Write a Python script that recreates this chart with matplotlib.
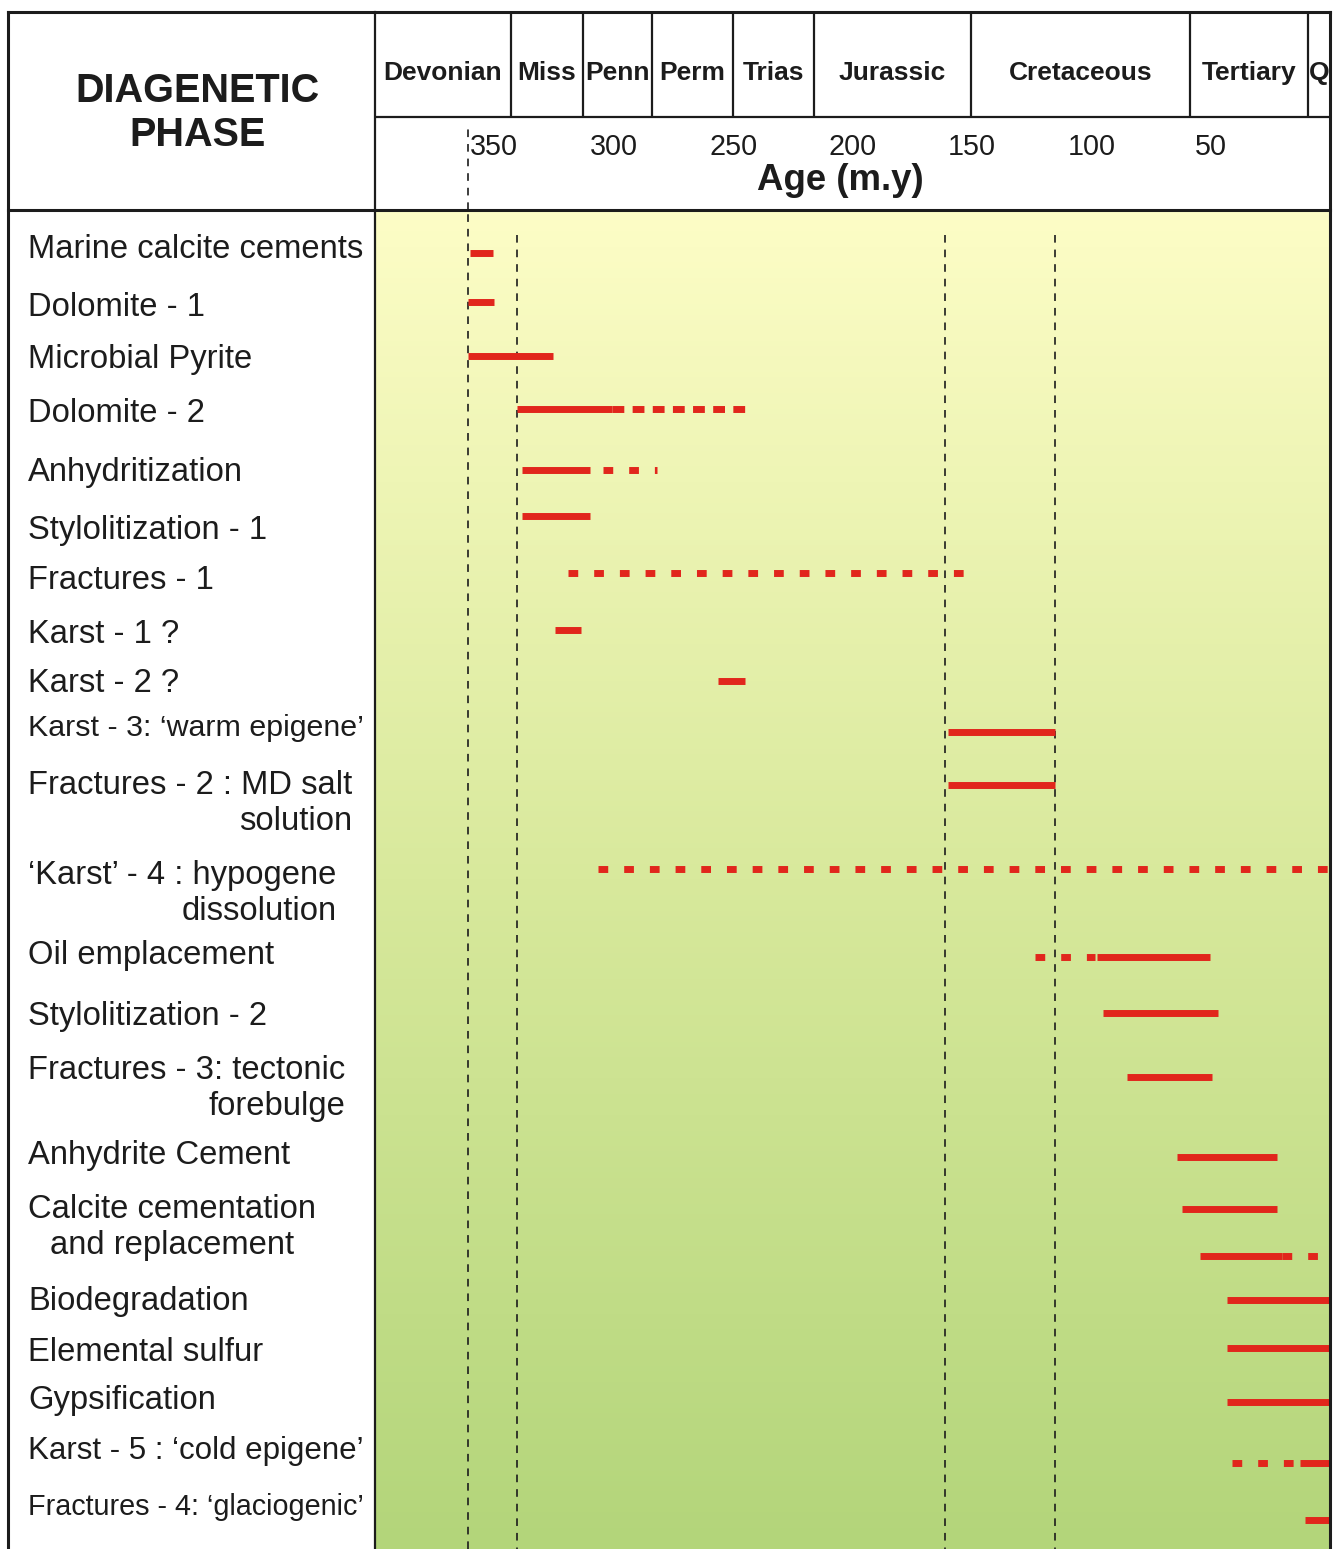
import matplotlib
matplotlib.use("Agg")
import matplotlib.pyplot as plt
import matplotlib.transforms as mtrans
from matplotlib.colors import LinearSegmentedColormap
from matplotlib.lines import Line2D
import numpy as np

plt.rcParams['font.family'] = ['Liberation Sans', 'DejaVu Sans']
plt.rcParams['lines.scale_dashes'] = False

# ---- data (ages in m.y.) ----
period_names = ['Devonian', 'Miss', 'Penn', 'Perm', 'Trias', 'Jurassic',
                'Cretaceous', 'Tertiary', 'Q']
period_bounds = [400, 343, 313, 284, 250, 216, 150.4, 58.6, 9.2, 0]
age_ticks = [350, 300, 250, 200, 150, 100, 50]
guide_ages = [361, 340.5, 161.3, 115.2]

phases = ['Marine calcite cements', 'Dolomite - 1', 'Microbial Pyrite',
          'Dolomite - 2', 'Anhydritization', 'Stylolitization - 1',
          'Fractures - 1', 'Karst - 1 ?', 'Karst - 2 ?',
          'Karst - 3: \u2018warm epigene\u2019',
          'Fractures - 2 : MD salt\nsolution',
          '\u2018Karst\u2019 - 4 : hypogene\ndissolution',
          'Oil emplacement', 'Stylolitization - 2',
          'Fractures - 3: tectonic\nforebulge',
          'Anhydrite Cement', 'Calcite cementation\nand replacement',
          'Biodegradation', 'Elemental sulfur', 'Gypsification',
          'Karst - 5 : \u2018cold epigene\u2019',
          'Fractures - 4: \u2018glaciogenic\u2019']
label_row = [-0.06, 1.02, 2.0, 3.02, 4.13, 5.23, 6.17, 7.19, 8.11, 8.98,
             10.04, 11.74, 13.25, 14.4, 15.42, 17.02, 18.04, 19.77, 20.74,
             21.64, 22.6, 23.68]

# timing segments: row, from (older), to (younger), kind
seg_row = [0, 0.92, 1.94, 2.94, 2.94, 4.09, 4.09, 4.96, 6.04, 7.11, 8.08,
           9.04, 10.04, 11.62, 13.28, 13.28, 14.34, 15.55, 17.06, 18.04,
           18.92, 18.92, 19.75, 20.66, 21.68, 22.83, 22.83, 23.91]
seg_old = [360.2, 361, 361, 340.5, 300.7, 338.4, 304.5, 338.4, 319.2, 324.6,
           256.3, 160, 160, 306.6, 123.6, 97.6, 95, 85, 64.1, 62,
           54.4, 20.1, 43.1, 43.1, 43.1, 41, 12.6, 10.5]
seg_young = [350.6, 350.2, 325.4, 300.7, 245, 310, 281.9, 310, 152, 313.7,
             245, 115.2, 115.2, 0, 98.4, 50.3, 46.9, 49.4, 22.2, 22.2,
             20.1, 2.1, 0, 0, 0, 12.6, 0, 0]
seg_kind = ['solid', 'solid', 'solid', 'solid', 'dense', 'solid', 'dash',
            'solid', 'dash', 'solid', 'solid', 'solid', 'solid', 'dash',
            'dash', 'solid', 'solid', 'solid', 'solid', 'solid', 'solid',
            'dash', 'solid', 'solid', 'solid', 'dash', 'solid', 'solid']

RED = '#E1261C'
INK = '#1c1c1c'
W, H = 1336, 1549


def fx(px):
    return px / W


def fy(py):
    return 1 - py / H


fig = plt.figure(figsize=(W / 100, H / 100), dpi=100)
fig.patch.set_facecolor('white')

# body of the chart
ax = fig.add_axes([fx(375), 0, fx(1330) - fx(375), fy(210)])
grad = np.linspace(0, 1, 256).reshape(-1, 1)
cmap = LinearSegmentedColormap.from_list('bg', ['#FDFDC6', '#D8E99C', '#B3D57A'])
ax.imshow(grad, extent=(0, 1, 0, 1), transform=ax.transAxes, aspect='auto',
          cmap=cmap, zorder=0)
ax.set_xlim(400, 0)
ax.set_ylim(24.45, -0.81)
ax.set_xticks([])
ax.set_yticks([])
for s in ax.spines.values():
    s.set_visible(False)

# dashed guide lines
guide_style = (0, (5.5, 5))
ax.axvline(guide_ages[0], color=INK, lw=1.2, ls=guide_style, zorder=2)
ax.vlines(guide_ages[1:], -0.34, 24.45, colors=INK, lw=1.2,
          linestyles=[guide_style], zorder=2)

styles = {'solid': '-', 'dash': (0, (7, 11.5)), 'dense': (0, (8.5, 6))}
for r, a0, a1, k in zip(seg_row, seg_old, seg_young, seg_kind):
    ax.plot([a0, a1], [r, r], color=RED, lw=5, ls=styles[k],
            solid_capstyle='butt', dash_capstyle='butt', zorder=3)

# phase labels in the left column (shrunk a little if they would overflow it)
tr = mtrans.blended_transform_factory(fig.transFigure, ax.transData)
renderer = fig.canvas.get_renderer()
for name, r in zip(phases, label_row):
    t = ax.annotate(name, xy=(fx(28), r), xycoords=tr, xytext=(0, 11),
                    textcoords='offset points', ha='left', va='top',
                    fontsize=23.6, color=INK, annotation_clip=False,
                    multialignment='center' if name.startswith('Calcite') else 'right')
    bb = t.get_window_extent(renderer)
    if bb.x1 > 364:
        t.set_fontsize(23.6 * (364 - 28) / (bb.x1 - 28))

# header
hx = fig.add_axes([fx(375), fy(210), fx(1330) - fx(375), fy(12) - fy(210)],
                  sharex=ax)
hx.set_axis_off()
hx.set_ylim(0, 1)
hx.axhline(0.47, color=INK, lw=1.6)
hx.vlines(period_bounds[1:-1], 0.47, 1, colors=INK, lw=1.6)
for name, a0, a1 in zip(period_names, period_bounds[:-1], period_bounds[1:]):
    hx.text((a0 + a1) / 2, 0.69, name, ha='center', va='center',
            fontsize=19, fontweight='bold', color=INK)
for a in age_ticks:
    hx.text(a, 0.32, str(a), ha='center', va='center', fontsize=20.7, color=INK)
hx.text(205, 0.15, 'Age (m.y)', ha='center', va='center', fontsize=26.4,
        fontweight='bold', color=INK)
hx.vlines(guide_ages[0], 0, 0.41, colors=INK, lw=1.2, linestyles=[guide_style])

fig.text(fx(197), fy(113), 'DIAGENETIC\nPHASE', ha='center', va='center',
         fontsize=28.5, fontweight='bold', color=INK, linespacing=1.2)

# table frame
frame = [([8, 8], [12, 1549], 2.2), ([8, 1330], [12, 12], 2.2),
         ([1330, 1330], [12, 1549], 2.2), ([8, 1330], [210, 210], 2.2),
         ([375, 375], [12, 1549], 1.6)]
for xs, ys, lw in frame:
    fig.add_artist(Line2D([fx(v) for v in xs], [fy(v) for v in ys],
                          color=INK, lw=lw, transform=fig.transFigure))

fig.savefig('out.png', dpi=100)
